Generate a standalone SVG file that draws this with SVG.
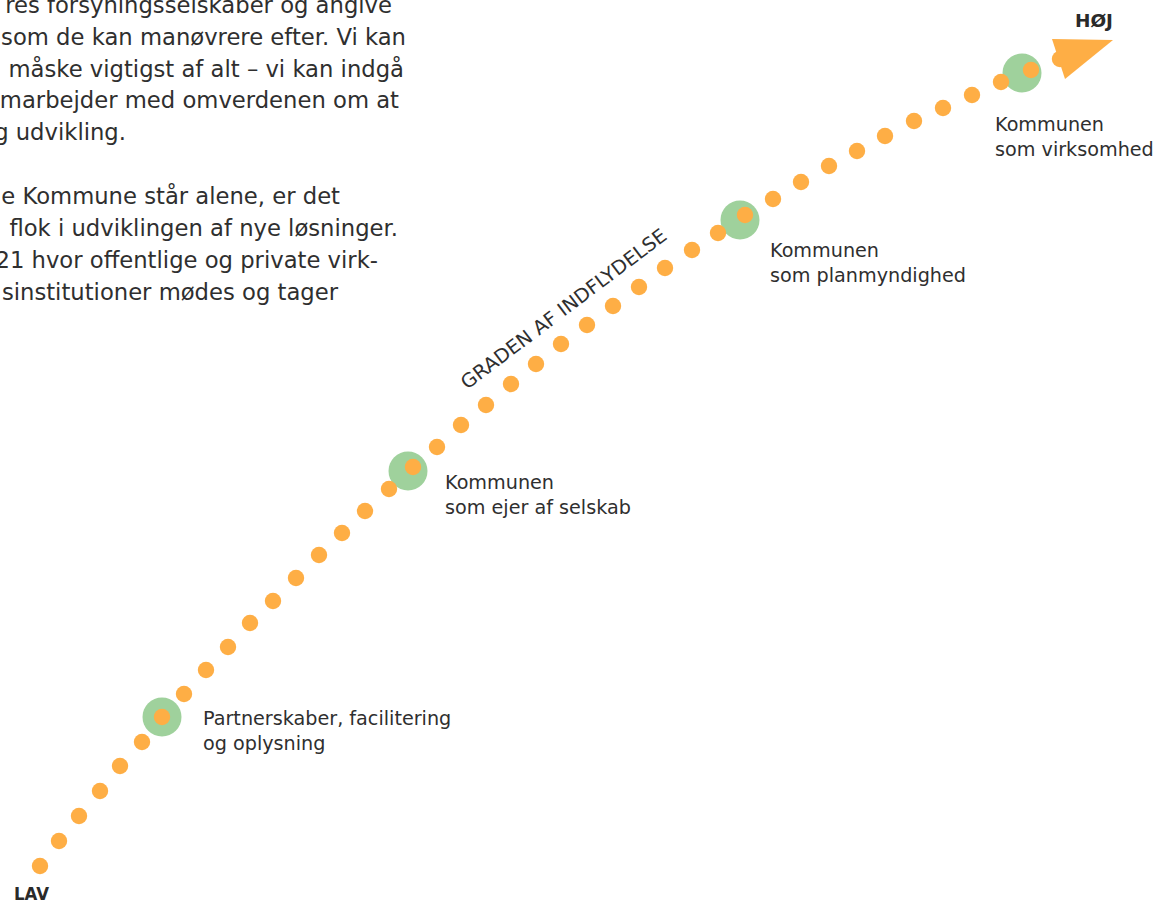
<svg xmlns="http://www.w3.org/2000/svg" width="1154" height="904" viewBox="0 0 1154 904">
  <style>
    .body { font-family: "DejaVu Sans", "Liberation Sans", sans-serif; font-size: 22.7px; fill: #2f2f2f; text-anchor: end; }
    .lbl { font-family: "DejaVu Sans", "Liberation Sans", sans-serif; font-size: 19.2px; fill: #2f2f2f; }
    .axis { font-family: "DejaVu Sans", "Liberation Sans", sans-serif; font-size: 17px; font-weight: bold; fill: #2a2a2a; }
    .dot { fill: #FEAE45; }
    .halo { fill: #9FD19C; }
  </style>
  <rect x="0" y="0" width="1154" height="904" fill="#ffffff"/>

  <g id="paragraph">
    <text class="body" x="392" y="13">res forsyningsselskaber og angive</text>
    <text class="body" x="406" y="45">som de kan manøvrere efter. Vi kan</text>
    <text class="body" x="404" y="77">måske vigtigst af alt – vi kan indgå</text>
    <text class="body" x="399" y="108">marbejder med omverdenen om at</text>
    <text class="body" x="126" y="140">g udvikling.</text>
    <text class="body" x="340" y="204">e Kommune står alene, er det</text>
    <text class="body" x="398" y="236">flok i udviklingen af nye løsninger.</text>
    <text class="body" x="378" y="268">21 hvor offentlige og private virk-</text>
    <text class="body" x="338" y="300">sinstitutioner mødes og tager</text>
  </g>

  <g id="node-partnerskaber">
    <circle class="halo" cx="162" cy="717" r="19.5"/>
  </g>
  <g id="node-ejer">
    <circle class="halo" cx="408" cy="471" r="19.5"/>
  </g>
  <g id="node-planmyndighed">
    <circle class="halo" cx="740" cy="220" r="19.5"/>
  </g>
  <g id="node-virksomhed">
    <circle class="halo" cx="1022" cy="73" r="19.5"/>
  </g>

  <g id="connectors">
    <circle class="dot" cx="40" cy="866" r="8.2"/>
    <circle class="dot" cx="59" cy="841" r="8.2"/>
    <circle class="dot" cx="79" cy="816" r="8.2"/>
    <circle class="dot" cx="100" cy="791" r="8.2"/>
    <circle class="dot" cx="120" cy="766" r="8.2"/>
    <circle class="dot" cx="142" cy="742" r="8.2"/>
    <circle class="dot" cx="162" cy="717" r="8.2"/>
    <circle class="dot" cx="184" cy="694" r="8.2"/>
    <circle class="dot" cx="206" cy="670" r="8.2"/>
    <circle class="dot" cx="228" cy="647" r="8.2"/>
    <circle class="dot" cx="250" cy="623" r="8.2"/>
    <circle class="dot" cx="273" cy="601" r="8.2"/>
    <circle class="dot" cx="296" cy="578" r="8.2"/>
    <circle class="dot" cx="319" cy="555" r="8.2"/>
    <circle class="dot" cx="342" cy="533" r="8.2"/>
    <circle class="dot" cx="365" cy="511" r="8.2"/>
    <circle class="dot" cx="389" cy="489" r="8.2"/>
    <circle class="dot" cx="413" cy="467" r="8.2"/>
    <circle class="dot" cx="437" cy="447" r="8.2"/>
    <circle class="dot" cx="461" cy="425" r="8.2"/>
    <circle class="dot" cx="486" cy="405" r="8.2"/>
    <circle class="dot" cx="511" cy="384" r="8.2"/>
    <circle class="dot" cx="536" cy="364" r="8.2"/>
    <circle class="dot" cx="561" cy="344" r="8.2"/>
    <circle class="dot" cx="587" cy="325" r="8.2"/>
    <circle class="dot" cx="613" cy="306" r="8.2"/>
    <circle class="dot" cx="639" cy="287" r="8.2"/>
    <circle class="dot" cx="665" cy="268" r="8.2"/>
    <circle class="dot" cx="692" cy="250" r="8.2"/>
    <circle class="dot" cx="718" cy="233" r="8.2"/>
    <circle class="dot" cx="745" cy="215" r="8.2"/>
    <circle class="dot" cx="773" cy="199" r="8.2"/>
    <circle class="dot" cx="801" cy="182" r="8.2"/>
    <circle class="dot" cx="829" cy="166" r="8.2"/>
    <circle class="dot" cx="857" cy="151" r="8.2"/>
    <circle class="dot" cx="885" cy="136" r="8.2"/>
    <circle class="dot" cx="914" cy="121" r="8.2"/>
    <circle class="dot" cx="943" cy="108" r="8.2"/>
    <circle class="dot" cx="972" cy="95" r="8.2"/>
    <circle class="dot" cx="1001" cy="82" r="8.2"/>
    <circle class="dot" cx="1031" cy="70" r="8.2"/>
    <circle class="dot" cx="1060" cy="59" r="8.2"/>
    <polygon class="dot" points="1052,39 1113,40 1065,79"/>
  </g>

  <g id="labels">
    <text class="lbl" x="203" y="725">Partnerskaber, facilitering</text>
    <text class="lbl" x="203" y="750">og oplysning</text>
    <text class="lbl" x="445" y="489">Kommunen</text>
    <text class="lbl" x="445" y="514">som ejer af selskab</text>
    <text class="lbl" x="770" y="257">Kommunen</text>
    <text class="lbl" x="770" y="282">som planmyndighed</text>
    <text class="lbl" x="995" y="131">Kommunen</text>
    <text class="lbl" x="995" y="156">som virksomhed</text>
    <text class="lbl" x="0" y="0" font-size="19" textLength="252" lengthAdjust="spacingAndGlyphs" transform="translate(467,390) rotate(-37)">GRADEN AF INDFLYDELSE</text>
    <text class="axis" x="1113" y="27" text-anchor="end" textLength="38" lengthAdjust="spacingAndGlyphs">HØJ</text>
    <text class="axis" x="14" y="900" textLength="35" lengthAdjust="spacingAndGlyphs">LAV</text>
  </g>
</svg>
